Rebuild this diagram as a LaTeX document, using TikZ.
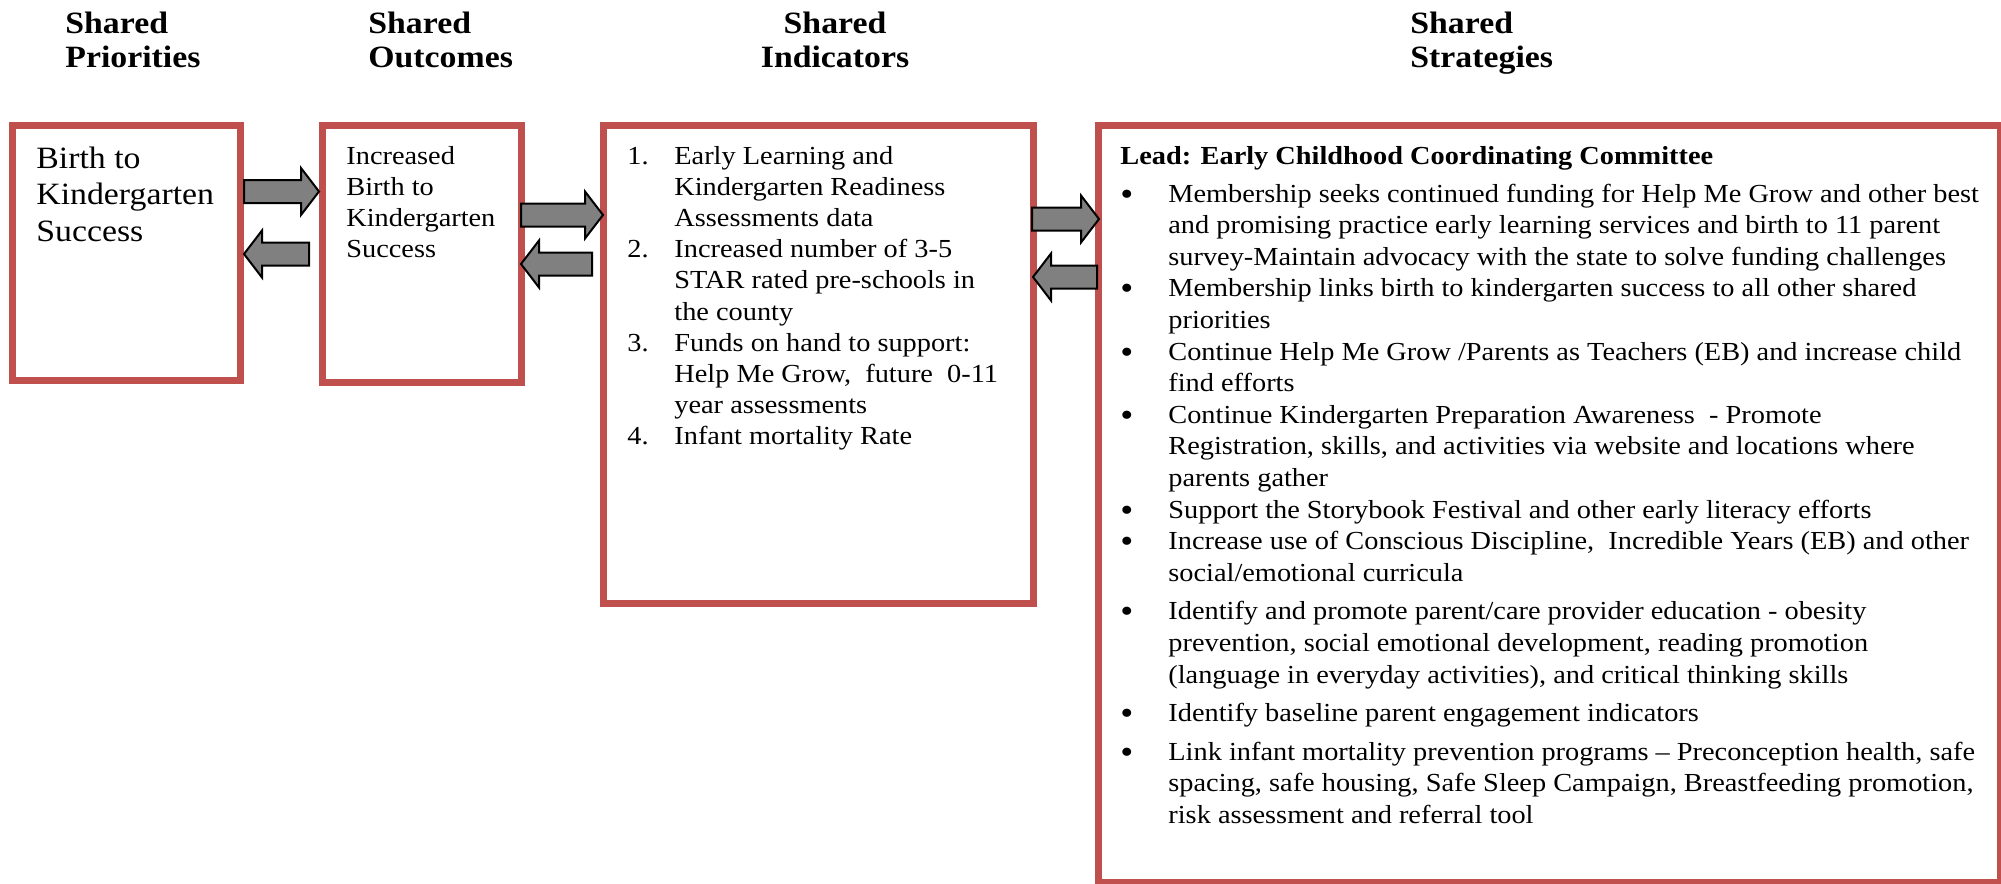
\documentclass[tikz,border=0pt]{standalone}
\usepackage{fontspec}
\setmainfont{Liberation Serif}[FakeStretch=1.09]
\usepackage{tikz}
\usetikzlibrary{calc}
\definecolor{boxred}{HTML}{C0504D}
\definecolor{arrowgray}{HTML}{808080}
\newcommand{\bigbul}{\raisebox{-1.5pt}{\fontsize{17}{0}\selectfont\textbullet}}

\begin{document}
\begin{tikzpicture}[x=0.5pt,y=-0.5pt]
	\useasboundingbox (0,0) rectangle (2001,883);
	\clip (0,0) rectangle (2001,883);
	
	% column headings
	\begin{scope}[every node/.style={inner sep=0pt,anchor=base west,font=\fontsize{15.5}{17}\selectfont\bfseries}]
		\node (hprio) at (65,34) {\begin{tabular}[t]{@{}l@{}}Shared\\Priorities\end{tabular}};
		\node (houtc) at (368,34) {\begin{tabular}[t]{@{}l@{}}Shared\\Outcomes\end{tabular}};
		\node[anchor=base] (hindi) at (835,34) {\begin{tabular}[t]{@{}c@{}}Shared\\Indicators\end{tabular}};
		\node (hstra) at (1410,34) {\begin{tabular}[t]{@{}l@{}}Shared\\Strategies\end{tabular}};
	\end{scope}
	
	% boxes
	\begin{scope}[every node/.style={rectangle,draw=boxred,line width=3.5pt,inner sep=0pt}]
		\node[minimum width=114pt,minimum height=127.5pt] (prio) at (126.5,253) {};
		\node[minimum width=99.5pt,minimum height=128.5pt] (outc) at (422,254) {};
		\node[minimum width=215pt,minimum height=239pt] (indi) at (818.5,364.5) {};
		\node[minimum width=451pt,minimum height=378.5pt] (stra) at (1549.5,504) {};
	\end{scope}
	
	% box texts
	\begin{scope}[every node/.style={inner sep=0pt,anchor=base west}]
		\node[font=\fontsize{15.5}{18.25}\selectfont] (tprio) at (36,168)
			{\begin{tabular}[t]{@{}l@{}}Birth to\\Kindergarten\\Success\end{tabular}};
		\node[font=\fontsize{13}{15.5}\selectfont] (toutc) at (346,164)
			{\begin{tabular}[t]{@{}l@{}}Increased\\Birth to\\Kindergarten\\Success\end{tabular}};
		\node[font=\fontsize{13}{15.6}\selectfont] (tindi) at (627,164)
			{\begin{tabular}[t]{@{}p{23.5pt}@{}l@{}}
				1. & Early Learning and\\
				   & Kindergarten Readiness\\
				   & Assessments data\\
				2. & Increased number of 3-5\\
				   & STAR rated pre-schools in\\
				   & the county\\
				3. & Funds on hand to support:\\
				   & Help Me Grow,\ \ future\ \ 0-11\\
				   & year assessments\\
				4. & Infant mortality Rate
			\end{tabular}};
		\node[font=\fontsize{13}{15.8}\selectfont] (tstra) at (1120,164)
			{\begin{tabular}[t]{@{}p{24pt}@{}l@{}}
				\multicolumn{2}{@{}l@{}}{\bfseries Lead: Early Childhood Coordinating Committee}\\[3.2pt]
				\bigbul & Membership seeks continued funding for Help Me Grow and other best\\
				        & and promising practice early learning services and birth to 11 parent\\
				        & survey-Maintain advocacy with the state to solve funding challenges\\
				\bigbul & Membership links birth to kindergarten success to all other shared\\
				        & priorities\\
				\bigbul & Continue Help Me Grow /Parents as Teachers (EB) and increase child\\
				        & find efforts\\
				\bigbul & Continue Kindergarten Preparation Awareness\ \ - Promote\\
				        & Registration, skills, and activities via website and locations where\\
				        & parents gather\\
				\bigbul & Support the Storybook Festival and other early literacy efforts\\
				\bigbul & Increase use of Conscious Discipline,\ \ Incredible Years (EB) and other\\
				        & social/emotional curricula\\[3.5pt]
				\bigbul & Identify and promote parent/care provider education - obesity\\
				        & prevention, social emotional development, reading promotion\\
				        & (language in everyday activities), and critical thinking skills\\[3.5pt]
				\bigbul & Identify baseline parent engagement indicators\\[3.5pt]
				\bigbul & Link infant mortality prevention programs – Preconception health, safe\\
				        & spacing, safe housing, Safe Sleep Campaign, Breastfeeding promotion,\\
				        & risk assessment and referral tool
			\end{tabular}};
	\end{scope}
	
	% block arrows between the boxes
	\begin{scope}[fatarrow/.style={draw=black,line width=1pt,fill=arrowgray,
			to path={let \p1=(\tikztostart), \p2=(\tikztotarget), \n1={(\x2-\x1)/abs(\x2-\x1)} in
				(\x1,\y1+5.75pt) -- (\x2-\n1*9pt,\y1+5.75pt) -- (\x2-\n1*9pt,\y1+11.75pt) -- (\x2,\y1)
				-- (\x2-\n1*9pt,\y1-11.75pt) -- (\x2-\n1*9pt,\y1-5.75pt) -- (\x1,\y1-5.75pt) -- cycle}}]
		\draw[fatarrow] ([yshift=30.75pt]prio.east) to (outc.west);
		\draw[fatarrow] ([xshift=-5pt]outc.west) to (prio.east);
		
		\draw[fatarrow] ([xshift=-2pt,yshift=19.5pt]outc.east) to ([xshift=1.5pt]indi.west);
		\draw[fatarrow] ([xshift=-4pt,yshift=50.25pt]indi.west) to ([xshift=-2pt]outc.east);
		
		\draw[fatarrow] ([xshift=-2.5pt,yshift=72.75pt]indi.east) to ([xshift=2pt]stra.west);
		\draw[fatarrow] ([xshift=1pt,yshift=113.5pt]stra.west) to ([xshift=-2pt]indi.east);
	\end{scope}
\end{tikzpicture}
\end{document}
